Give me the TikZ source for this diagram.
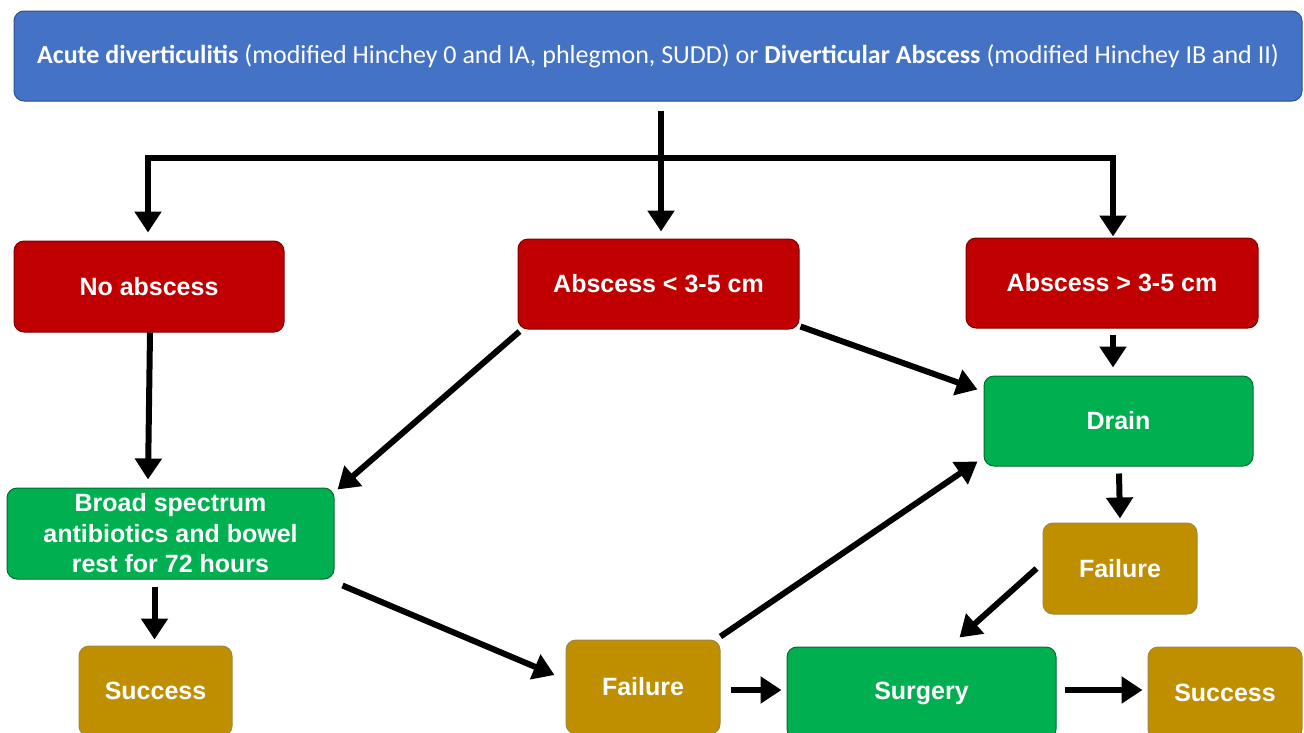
\documentclass[tikz,border=0pt]{standalone}
\usepackage{fontspec}
\newfontfamily\arialf{Liberation Sans}
\newfontfamily\calibf{Carlito}
\usetikzlibrary{arrows.meta,calc}
\definecolor{cblue}{HTML}{4472C4}
\definecolor{cred}{HTML}{C00000}
\definecolor{cgreen}{HTML}{00B050}
\definecolor{cgold}{HTML}{BF8F00}
\tikzset{
  box/.style={rounded corners=10pt, text=white, align=center, line width=1pt,
     font=\arialf\bfseries\fontsize{25}{30.5}\selectfont, inner sep=0pt},
  redbox/.style={box, fill=cred, draw=cred!65!black},
  greenbox/.style={box, fill=cgreen, draw=cgreen!60!black},
  goldbox/.style={box, fill=cgold, draw=cgold!50!gray},
  conn/.style={line width=6pt, draw=black},
  arr/.style={conn, -{Triangle[length=21pt,width=26pt]}},
}
\begin{document}
\begin{tikzpicture}[x=1pt,y=-1pt]
\clip (0,0) rectangle (1304,732);
\fill[white] (0,0) rectangle (1304,732);
% top
\node[box, fill=cblue, draw=cblue!70!black, minimum width=1288pt, minimum height=90pt,
  font=\calibf\fontsize{26}{30}\selectfont] (top) at (658,56)
  {\textbf{Acute diverticulitis} (modified Hinchey 0 and IA, phlegmon, SUDD) or \textbf{Diverticular Abscess} (modified Hinchey IB and II)};
% row 1
\node[redbox, minimum width=270pt, minimum height=91pt] (noab) at (149,286.5) {No abscess};
\node[redbox, minimum width=281pt, minimum height=90pt] (absL) at (658.5,284) {Abscess < 3-5 cm};
\node[redbox, minimum width=292pt, minimum height=90pt] (absG) at (1112,283) {Abscess > 3-5 cm};
% row 2
\node[greenbox, minimum width=269pt, minimum height=90pt] (drain) at (1118.5,421) {Drain};
\node[greenbox, minimum width=327pt, minimum height=91pt] (broad) at (170.5,533.5) {Broad spectrum\\antibiotics and bowel\\rest for 72 hours};
\node[goldbox, minimum width=154pt, minimum height=91pt] (failR) at (1120,568.5) {Failure};
% row 3
\node[goldbox, minimum width=153pt, minimum height=90pt] (succL) at (155.5,691) {Success};
\node[goldbox, minimum width=154pt, minimum height=94pt] (failM) at (643,687) {Failure};
\node[greenbox, minimum width=269pt, minimum height=92pt] (surg) at (921.5,693) {Surgery};
\node[goldbox, minimum width=154pt, minimum height=92pt] (succR) at (1225,693) {Success};
% connectors from top
\coordinate (j) at (661,158);
\coordinate (jl) at (148,158);
\coordinate (jr) at (1113,158);
\draw[conn] ([xshift=3pt,yshift=-9pt]top.south) -- (j);
\draw[conn] ([xshift=-3pt]jl) -- ([xshift=3pt]jr);
\draw[arr] (j) -- ([yshift=7pt]j |- absL.north);
\draw[arr] ([yshift=-3pt]jl) -- ([yshift=8pt]jl |- noab.north);
\draw[arr] ([yshift=-3pt]jr) -- ([yshift=1pt]jr |- absG.north);
% other connectors
\draw[arr] ([xshift=1pt]noab.south) -- ([xshift=-1pt,yshift=8pt]noab.south |- broad.north);
\draw[arr] ([xshift=2pt,yshift=-2pt]absL.south west) -- ([xshift=3pt,yshift=-2pt]broad.north east);
\draw[arr] ([xshift=1pt,yshift=3pt]absL.south east) -- ([xshift=-6pt,yshift=-14pt]drain.north west);
\draw[arr] ([xshift=1pt,yshift=-6pt]absG.south) -- ([xshift=1pt,yshift=8pt]absG.south |- drain.north);
\draw[arr] ([xshift=-16pt,yshift=-7pt]broad.south) -- ([xshift=-1pt,yshift=6pt]succL.north);
\draw[arr] ([xshift=8pt,yshift=-6pt]broad.south east) -- ([xshift=-11pt,yshift=12pt]failM.west);
\draw[arr] ([yshift=3pt]failM.north east) -- ([xshift=-6pt,yshift=5pt]drain.south west);
\draw[arr] ([xshift=10pt,yshift=-3pt]failM.east) -- ([xshift=-5pt,yshift=3pt]surg.west);
\draw[arr] ([xshift=0.5pt,yshift=-7pt]drain.south) -- ([yshift=4pt]failR.north);
\draw[arr] ([xshift=-6pt]failR.west) -- ([xshift=38pt,yshift=9pt]surg.north);
\draw[arr] ([xshift=8pt,yshift=3pt]surg.east) -- ([xshift=-5pt,yshift=3pt]succR.west);
\end{tikzpicture}
\end{document}
